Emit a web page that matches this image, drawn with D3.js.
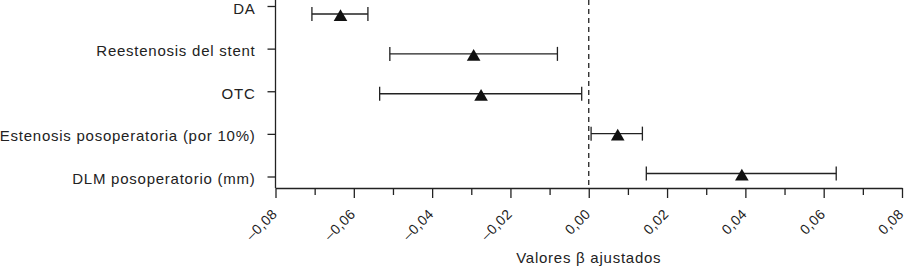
<!DOCTYPE html>
<html>
<head>
<meta charset="utf-8">
<script src="https://cdn.jsdelivr.net/npm/d3@7"></script>
<style>
  body { margin: 0; background: #fff; }
  svg text { font-family: "Liberation Sans", Arial, sans-serif; fill: #222; }
</style>
</head>
<body>
<div id="chart"></div>
<script>
// data
const categories = ['DA', 'Reestenosis del stent', 'OTC', 'Estenosis posoperatoria (por 10%)', 'DLM posoperatorio (mm)'];
const estimates = [-0.0634, -0.0294, -0.0275, 0.0074, 0.0391];
const lowerCI = [-0.0707, -0.0508, -0.0534, 0.0006, 0.0147];
const upperCI = [-0.0564, -0.0080, -0.0018, 0.0137, 0.0632];
const xTicks = [-0.08, -0.06, -0.04, -0.02, 0, 0.02, 0.04, 0.06, 0.08];
const xMinorTicks = [-0.07, -0.05, -0.03, -0.01, 0.01, 0.03, 0.05, 0.07];
const xLabel = 'Valores \u03B2 ajustados';

const width = 907, height = 269;
const margin = { top: 0, left: 275, right: 5 };
const axisY = 188;
const ink = '#222';

const svg = d3.select('#chart')
  .append('svg')
  .attr('width', width)
  .attr('height', height);

const x = d3.scaleLinear()
  .domain([-0.08, 0.08])
  .range([margin.left + 0.5, width - margin.right]);

// category positions for the axis ticks, and for the marks (slightly offset in the original)
const yAxisScale = d3.scalePoint().domain(categories).range([6, 176.5]);
const yMarks = d3.scalePoint().domain(categories).range([14, 173.5]);

const fmt = v => (v < 0 ? '\u2013' : '') + Math.abs(v).toFixed(2).replace('.', ',');

// x axis, major ticks
const xAxis = svg.append('g')
  .attr('transform', `translate(0,${axisY})`)
  .call(d3.axisBottom(x).tickValues(xTicks).tickFormat(fmt).tickSize(10).tickSizeOuter(0));
xAxis.select('.domain').attr('stroke', ink).attr('stroke-width', 1.3);
xAxis.selectAll('.tick line').attr('stroke', ink).attr('stroke-width', 1.3);
xAxis.selectAll('.tick text')
  .attr('font-size', 14)
  .attr('letter-spacing', 0.4)
  .attr('text-anchor', 'end')
  .attr('y', 0).attr('dy', 0)
  .attr('transform', 'translate(2,27) rotate(-45)');

// minor ticks
svg.append('g')
  .attr('transform', `translate(0,${axisY})`)
  .call(d3.axisBottom(x).tickValues(xMinorTicks).tickFormat('').tickSize(7).tickSizeOuter(0))
  .call(g => g.select('.domain').remove())
  .selectAll('.tick line').attr('stroke', ink).attr('stroke-width', 1.3);

// y axis
const yAxis = svg.append('g')
  .attr('transform', `translate(${margin.left + 0.5},0)`)
  .call(d3.axisLeft(yAxisScale).tickSize(8).tickPadding(12).tickSizeOuter(0));
yAxis.select('.domain').attr('d', `M0,0V${axisY}`).attr('stroke', ink).attr('stroke-width', 1.3);
yAxis.selectAll('.tick line').attr('stroke', ink).attr('stroke-width', 1.3);
yAxis.selectAll('.tick text')
  .attr('font-size', 15)
  .attr('letter-spacing', 0.75)
  .attr('dy', '0.47em');

// reference line at zero
svg.append('line')
  .attr('x1', x(0)).attr('x2', x(0))
  .attr('y1', 0).attr('y2', axisY)
  .attr('stroke', ink)
  .attr('stroke-width', 1.3)
  .attr('stroke-dasharray', '5,4');

const rows = categories.map((c, i) => ({ c, est: estimates[i], lo: lowerCI[i], hi: upperCI[i] }));
const capH = 7;

const g = svg.append('g').attr('stroke', ink).attr('stroke-width', 1.3);

g.selectAll('.ci')
  .data(rows)
  .enter()
  .append('line')
  .attr('x1', d => x(d.lo)).attr('x2', d => x(d.hi))
  .attr('y1', d => yMarks(d.c)).attr('y2', d => yMarks(d.c));

g.selectAll('.cap-lo')
  .data(rows)
  .enter()
  .append('line')
  .attr('x1', d => x(d.lo)).attr('x2', d => x(d.lo))
  .attr('y1', d => yMarks(d.c) - capH).attr('y2', d => yMarks(d.c) + capH);

g.selectAll('.cap-hi')
  .data(rows)
  .enter()
  .append('line')
  .attr('x1', d => x(d.hi)).attr('x2', d => x(d.hi))
  .attr('y1', d => yMarks(d.c) - capH).attr('y2', d => yMarks(d.c) + capH);

svg.selectAll('.pt')
  .data(rows)
  .enter()
  .append('path')
  .attr('d', d3.symbol(d3.symbolTriangle, 80))
  .attr('transform', d => `translate(${x(d.est)},${yMarks(d.c) + 3})`)
  .attr('fill', '#111');

// axis title
svg.append('text')
  .attr('x', x(0))
  .attr('y', 263)
  .attr('text-anchor', 'middle')
  .attr('font-size', 15)
  .attr('letter-spacing', 0.75)
  .text(xLabel);
</script>
</body>
</html>
